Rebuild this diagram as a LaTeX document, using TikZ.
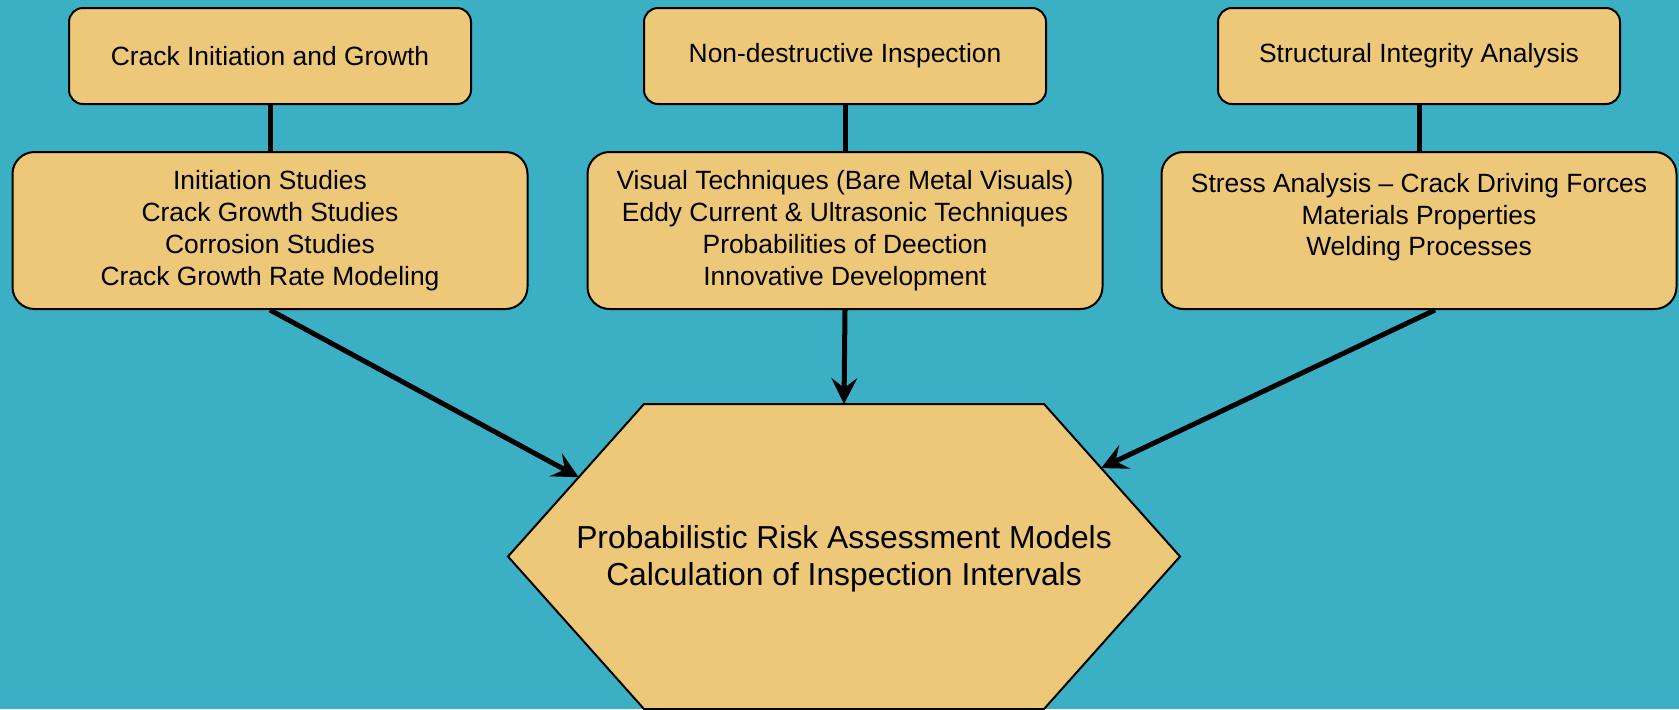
\documentclass[tikz,border=0pt]{standalone}
\usepackage{fontspec}
\setmainfont{Liberation Sans}
\usetikzlibrary{positioning,calc,arrows.meta}
\definecolor{bgteal}{RGB}{59,176,196}
\definecolor{boxfill}{RGB}{236,200,120}

\begin{document}
\begin{tikzpicture}[
    x=0.5pt, y=0.5pt,
    node distance=23pt,
    topic/.style={rectangle, draw, fill=boxfill, line width=1pt, rounded corners=7pt, minimum width=201pt, minimum height=48pt, font=\fontsize{13.2}{15.9}\selectfont},
    detail/.style={rectangle, draw, fill=boxfill, line width=1pt, rounded corners=11pt, minimum width=257.5pt, minimum height=78.5pt, align=center, font=\fontsize{13.2}{15.9}\selectfont},
    link/.style={line width=2.5pt},
    feed/.style={line width=2.5pt, -{Stealth[length=13pt,width=13pt,inset=5pt]}},
]
\fill[bgteal] (0,0) rectangle (1679,-709);
\useasboundingbox (0,0) rectangle (1679,-709);
% top row
\node[topic] (crack) at (270,-56) {Crack Initiation and Growth};
\node[topic] (ndi) at (845,-56) {Non-destructive Inspection};
\node[topic] (sia) at (1419,-56) {Structural Integrity Analysis};
% detail row
\node[detail, below=of crack] (crackd) {Initiation Studies\\Crack Growth Studies\\Corrosion Studies\\Crack Growth Rate Modeling};
\node[detail, below=of ndi] (ndid) {Visual Techniques (Bare Metal Visuals)\\Eddy Current \& Ultrasonic Techniques\\Probabilities of Deection\\Innovative Development};
\node[detail, below=of sia] (siad) {Stress Analysis -- Crack Driving Forces\\Materials Properties\\Welding Processes\\ \mbox{}};
% hexagon
\coordinate (hexTL) at (644,-404);
\coordinate (hexTR) at (1044,-404);
\coordinate (hexR) at (1180,-556.5);
\coordinate (hexBR) at (1044,-709);
\coordinate (hexBL) at (644,-709);
\coordinate (hexL) at (508,-556.5);
\draw[line width=1pt, fill=boxfill] (hexTL) -- (hexTR) -- (hexR) -- (hexBR) -- (hexBL) -- (hexL) -- cycle;
\node[align=center, font=\fontsize{15.9}{18.75}\selectfont] (risk) at (844,-559) {Probabilistic Risk Assessment Models\\Calculation of Inspection Intervals};
\coordinate (hexA) at ($(hexTL)!0.48!(hexL)$);
\coordinate (hexB) at ($(hexTL)!0.5!(hexTR)$);
\coordinate (hexC) at ($(hexTR)!0.42!(hexR)$);
\draw[link] (crack) -- (crackd);
\draw[link] (ndi) -- (ndid);
\draw[link] (sia) -- (siad);
\draw[feed] (crackd.south) -- (hexA);
\draw[feed] (ndid.south) -- (hexB);
\draw[feed] ([xshift=8pt]siad.south) -- (hexC);
\end{tikzpicture}
\end{document}
